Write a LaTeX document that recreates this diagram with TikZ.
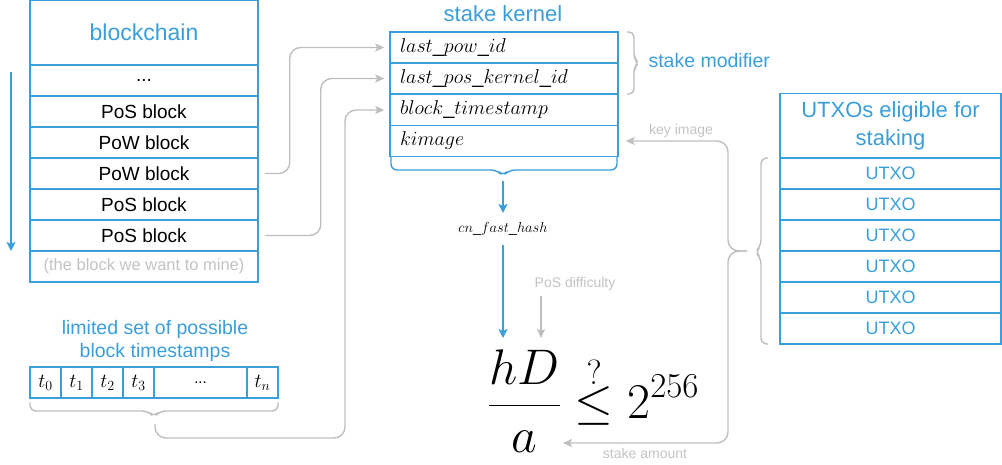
\RequirePackage{fix-cm}
\documentclass[tikz,border=0pt]{standalone}
\usepackage{fontspec}
\setmainfont{Liberation Sans}
\usetikzlibrary{arrows.meta}
\definecolor{bblue}{RGB}{58,158,218}
\definecolor{lgray}{RGB}{190,190,190}
\definecolor{tgray}{RGB}{195,195,195}
\newcommand\fs[1]{\fontsize{#1}{#1}\selectfont}
\tikzset{
  cell/.style={draw=bblue, line width=1.5pt, minimum width=228pt, minimum height=31pt, inner sep=0pt, font=\fs{19}},
  kcell/.style={draw=bblue, line width=1.5pt, minimum width=228pt, minimum height=31pt, text width=208pt, inner xsep=10pt, inner ysep=0pt, align=left, font=\fs{20}},
  ucell/.style={draw=bblue, line width=1.5pt, minimum width=221pt, minimum height=31pt, inner sep=0pt, font=\fs{18}, text=bblue},
  tcell/.style={draw=bblue, line width=1.5pt, minimum height=31pt, inner sep=0pt, font=\fs{20}},
  garrow/.style={draw=lgray, line width=1.4pt, rounded corners=11pt, -{Stealth[length=9pt,width=8pt,inset=2pt]}},
  barrow/.style={draw=bblue, line width=1.6pt, -{Stealth[length=9pt,width=9pt,inset=2pt]}},
  gbrace/.style={draw=lgray, line width=1.4pt, rounded corners=6pt},
  bbrace/.style={draw=bblue, line width=1.4pt, rounded corners=6pt},
  glabel/.style={text=tgray, font=\fs{14}, inner sep=1pt},
}
\begin{document}
\begin{tikzpicture}[x=1pt,y=-1pt]
\useasboundingbox (0,0) rectangle (1002,465);
% blockchain
\node[cell, minimum height=65pt, font=\fs{23}, text=bblue] (bc) at (144,32.5) {blockchain};
\node[cell] (b0) at (144,80.5) {...};
\node[cell] (b1) at (144,111.5) {PoS block};
\node[cell] (b2) at (144,142.5) {PoW block};
\node[cell] (b3) at (144,173.5) {PoW block};
\node[cell] (b4) at (144,204.5) {PoS block};
\node[cell] (b5) at (144,235.5) {PoS block};
\node[cell, text=tgray, font=\fs{16.5}] (b6) at (144,266.5) {(the block we want to mine)};
\coordinate (ta) at (11,72);
\coordinate (tb) at (11,251);
\draw[barrow] (ta) -- (tb);
% stake kernel
\node[text=bblue, font=\fs{22}] (skt) at (503,14) {stake kernel};
\node[kcell] (k1) at (504,47.5) {$last\_pow\_id$};
\node[kcell] (k2) at (504,78.5) {$last\_pos\_kernel\_id$};
\node[kcell] (k3) at (504,110) {$block\_timestamp$};
\node[kcell] (k4) at (504,141) {$kimage$};
% kernel brace
\draw[bbrace] (391,157) -- (391,170) -- (497,170) -- (503,176) -- (509,170) -- (617,170) -- (617,157);
\coordinate (kb) at (503,181);
\node[font=\fs{14.5}, inner sep=1pt] (cn) at (503,229) {$cn\_fast\_hash$};
\draw[barrow] (kb) -- ++(0,32);
% stake modifier brace
\draw[gbrace, rounded corners=5pt] (627,32) -- (634,32) -- (634,58) -- (639,63) -- (634,68) -- (634,94) -- (627,94);
\node[text=bblue, font=\fs{19.5}, anchor=west] (sm) at (645,61) {stake modifier};
% UTXOs
\node[ucell, minimum height=65pt, font=\fs{22}, align=center] (uh) at (890.5,126) {UTXOs eligible for\\[6pt]staking};
\node[ucell] (u1) at (890.5,173.5) {UTXO};
\node[ucell] (u2) at (890.5,204.5) {UTXO};
\node[ucell] (u3) at (890.5,235.5) {UTXO};
\node[ucell] (u4) at (890.5,266.5) {UTXO};
\node[ucell] (u5) at (890.5,297.5) {UTXO};
\node[ucell] (u6) at (890.5,328.5) {UTXO};
\draw[gbrace] (768,158) -- (761,158) -- (761,246) -- (755,252) -- (761,258) -- (761,344) -- (768,344);
\coordinate (ub) at (747,251);
% timestamps
\node[text=bblue, font=\fs{19.5}, align=center] (lim) at (155,341) {limited set of possible\\[3.5pt]block timestamps};
\node[tcell, minimum width=31pt] (t0) at (45.5,382.5) {$t_0$};
\node[tcell, minimum width=31pt] (t1) at (76.5,382.5) {$t_1$};
\node[tcell, minimum width=31pt] (t2) at (107.5,382.5) {$t_2$};
\node[tcell, minimum width=31pt] (t3) at (138.5,382.5) {$t_3$};
\node[tcell, minimum width=93pt, font=\fs{15}] (td) at (200.5,382.5) {...};
\node[tcell, minimum width=31pt] (tn) at (262.5,382.5) {$t_n$};
\draw[gbrace] (30,402) -- (30,411) -- (148,411) -- (154,417) -- (160,411) -- (278,411) -- (278,402);
\coordinate (tsb) at (155,424);
% formula
\node[anchor=base west, inner sep=0pt, font=\fs{50}] (eq) at (488,418) {$\displaystyle\frac{hD}{a}\stackrel{?}{\le}2^{256}$};
\coordinate (htip) at (503,338);
\coordinate (dtip) at (541,338);
\coordinate (amt) at (563,443);
\node[glabel] (diff) at (575,284) {PoS difficulty};
\node[glabel] (kim) at (681,131) {key image};
\node[glabel] (sam) at (645,453) {stake amount};
% connectors
\draw[barrow] (cn.south |- 0,245) -- (htip);
\draw[garrow] (dtip |- 0,296) -- (dtip);
\draw[garrow] ([xshift=6pt]b3.east) -- ++(25,0) |- ([xshift=-5pt]k1.west);
\draw[garrow] ([xshift=6pt]b5.east) -- ++(56,0) |- ([xshift=-5pt]k2.west);
\draw[garrow] (tsb) |- (345,438) |- ([xshift=-5pt]k3.west);
\draw[garrow] (ub) -- ++(-19,0) |- ([xshift=7pt]k4.east);
\draw[garrow] (ub) -- ++(-19,0) |- (amt);
\end{tikzpicture}
\end{document}
